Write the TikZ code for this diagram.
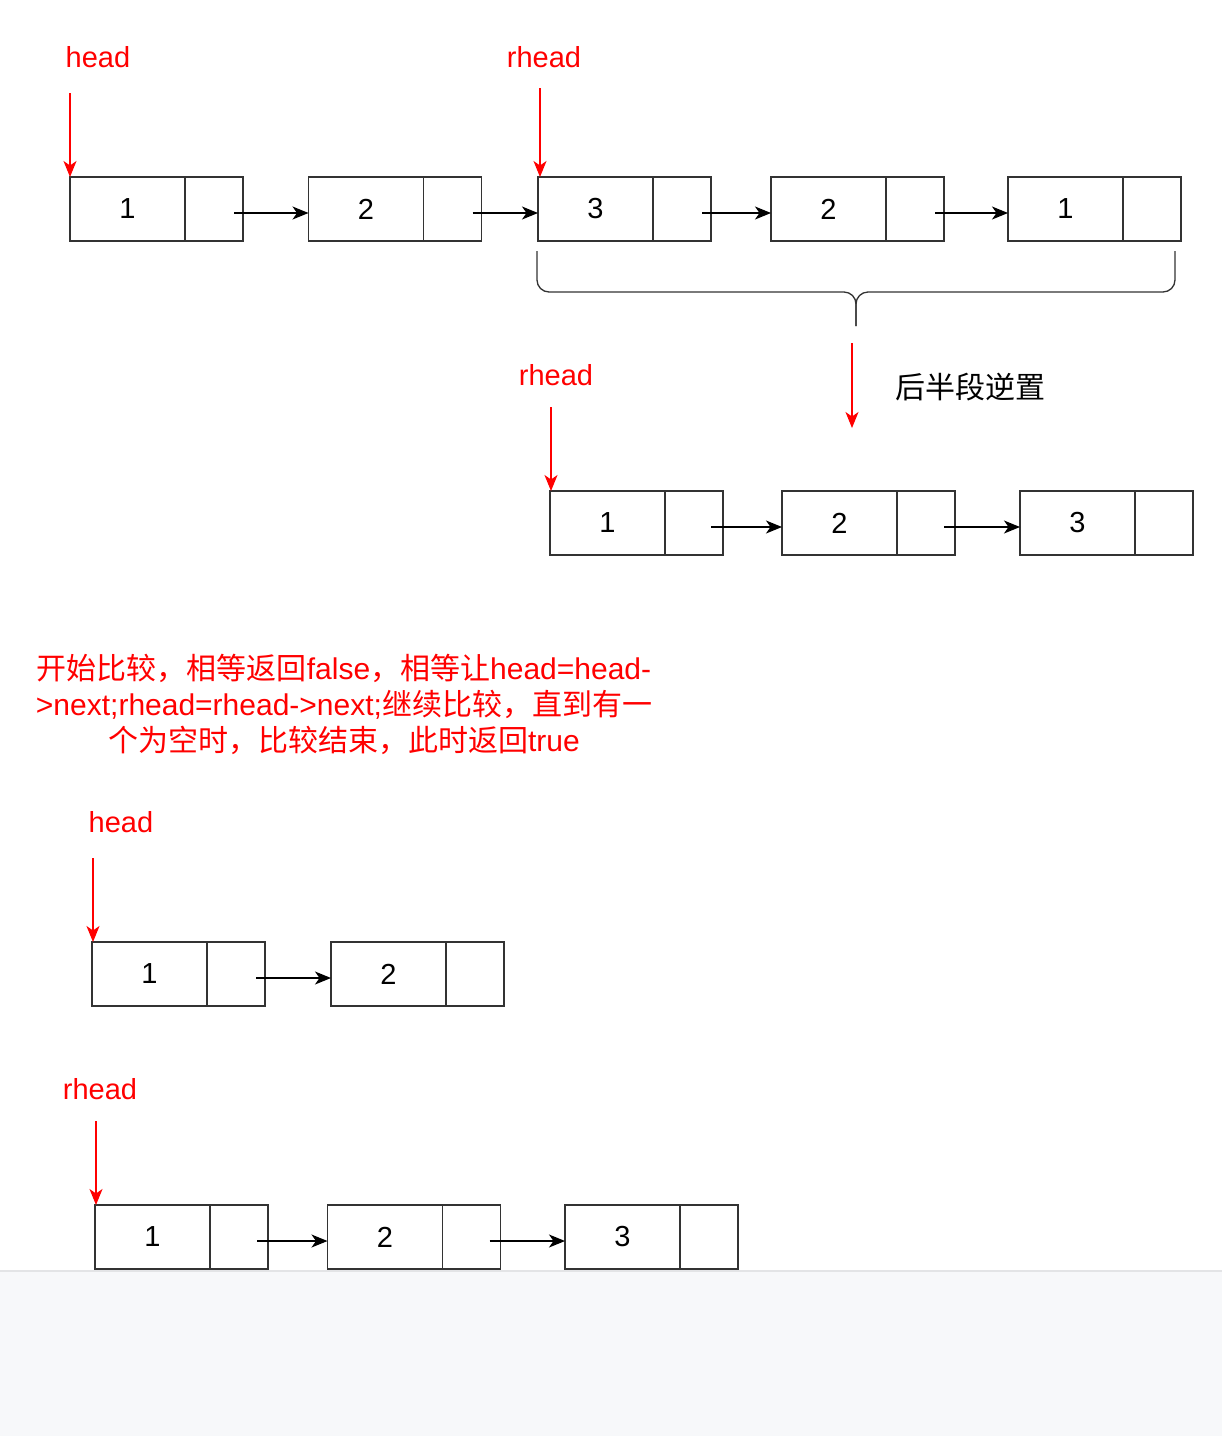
\documentclass[tikz,border=0pt]{standalone}
\usepackage{fontspec}
\setmainfont{Liberation Sans}
\newfontfamily\cjk{Noto Sans CJK SC}
\usepackage{tikz}
\usetikzlibrary{arrows.meta, calc, positioning}
\usepackage{xcolor}
\definecolor{pagegray}{HTML}{F7F8FA}
\definecolor{edgegray}{HTML}{E3E4E6}

\tikzset{
    datacell/.style={draw=black!80, line width=1.3pt, outer sep=0pt, inner sep=0pt,
        minimum width=115pt, minimum height=64pt, font=\fontsize{29pt}{29pt}\selectfont},
    linkcell/.style={draw=black!80, line width=1.3pt, outer sep=0pt, inner sep=0pt,
        minimum width=58pt, minimum height=64pt},
    nextarrow/.style={-{Stealth[length=16pt, width=13pt, inset=4.5pt]}, line width=1.3pt},
    ptrarrow/.style={red, -{Stealth[length=16pt, width=13pt, inset=4.5pt]}, line width=1.3pt},
    ptrlabel/.style={red, font=\fontsize{29pt}{29pt}\selectfont}
}

\begin{document}
\begin{tikzpicture}[x=1pt, y=-1pt]
    \useasboundingbox (0,0) rectangle (1222,1436);
    \fill[white] (0,0) rectangle (1222,1271);
    \fill[pagegray] (0,1271) rectangle (1222,1436);
    \draw[edgegray, line width=1.5pt] (0,1271) -- (1222,1271);

    % 原链表
    \begin{scope}
        \node[datacell] (n1) at (127.5,209) {1};
        \node[linkcell, right=0pt of n1] (n1p) {};
        \node[datacell] (n2) at (366,209) {2};
        \node[linkcell, right=0pt of n2] (n2p) {};
        \node[datacell] (n3) at (595.5,209) {3};
        \node[linkcell, right=0pt of n3] (n3p) {};
        \node[datacell] (n4) at (828.5,209) {2};
        \node[linkcell, right=0pt of n4] (n4p) {};
        \node[datacell] (n5) at (1065.5,209) {1};
        \node[linkcell, right=0pt of n5] (n5p) {};

        \draw[nextarrow] ([xshift=-9pt, yshift=-4pt]n1p.east) -- ([yshift=-4pt]n2.west);
        \draw[nextarrow] ([xshift=-9pt, yshift=-4pt]n2p.east) -- ([yshift=-4pt]n3.west);
        \draw[nextarrow] ([xshift=-9pt, yshift=-4pt]n3p.east) -- ([yshift=-4pt]n4.west);
        \draw[nextarrow] ([xshift=-9pt, yshift=-4pt]n4p.east) -- ([yshift=-4pt]n5.west);

        % 指针 head 与 rhead
        \node[ptrlabel] (head1) at (98,57) {head};
        \coordinate (p1) at (70,93);
        \draw[ptrarrow] (p1) -- (p1 |- n1.north);
        \node[ptrlabel] (rhead1) at (544,57) {rhead};
        \coordinate (p2) at (540,88);
        \draw[ptrarrow] (p2) -- (p2 |- n3.north);

        % 大括号
        \draw[line width=1.3pt, black!80, rounded corners=12pt]
            (537,251) -- (537,292) -- (856,292) -- (856,326);
        \draw[line width=1.3pt, black!80, rounded corners=12pt]
            (1175,251) -- (1175,292) -- (856,292) -- (856,326);
    \end{scope}

    % 后半段逆置
    \coordinate (q1) at (852,343);
    \coordinate (q2) at (852,428);
    \draw[ptrarrow] (q1) -- (q2);
    \node[font=\fontsize{30pt}{30pt}\selectfont\cjk] (rev) at (970,387) {后半段逆置};

    \begin{scope}
        \node[datacell] (r1) at (607.5,523) {1};
        \node[linkcell, right=0pt of r1] (r1p) {};
        \node[datacell] (r2) at (839.5,523) {2};
        \node[linkcell, right=0pt of r2] (r2p) {};
        \node[datacell] (r3) at (1077.5,523) {3};
        \node[linkcell, right=0pt of r3] (r3p) {};

        \draw[nextarrow] ([xshift=-12pt, yshift=-4pt]r1p.east) -- ([yshift=-4pt]r2.west);
        \draw[nextarrow] ([xshift=-11pt, yshift=-4pt]r2p.east) -- ([yshift=-4pt]r3.west);

        \node[ptrlabel] (rhead2) at (556,375) {rhead};
        \coordinate (p3) at (551,407);
        \draw[ptrarrow] (p3) -- (p3 |- r1.north);
    \end{scope}

    % 说明文字
    \node[red, align=center, font=\fontsize{30pt}{36pt}\selectfont] (note) at (344,704)
        {{\cjk 开始比较，相等返回}false{\cjk ，相等让}head=head-\\
         >next;rhead=rhead->next;{\cjk 继续比较，直到有一}\\
         {\cjk 个为空时，比较结束，此时返回}true};

    % 比较结束时
    \begin{scope}
        \node[datacell] (a1) at (149.5,974) {1};
        \node[linkcell, right=0pt of a1] (a1p) {};
        \node[datacell] (a2) at (388.5,974) {2};
        \node[linkcell, right=0pt of a2] (a2p) {};
        \draw[nextarrow] ([xshift=-9pt, yshift=-4pt]a1p.east) -- ([yshift=-4pt]a2.west);

        \node[ptrlabel] (head2) at (121,822) {head};
        \coordinate (p4) at (93,858);
        \draw[ptrarrow] (p4) -- (p4 |- a1.north);
    \end{scope}

    \begin{scope}
        \node[datacell] (b1) at (152.5,1237) {1};
        \node[linkcell, right=0pt of b1] (b1p) {};
        \node[datacell] (b2) at (385,1237) {2};
        \node[linkcell, right=0pt of b2] (b2p) {};
        \node[datacell] (b3) at (622.5,1237) {3};
        \node[linkcell, right=0pt of b3] (b3p) {};
        \draw[nextarrow] ([xshift=-11pt, yshift=-4pt]b1p.east) -- ([yshift=-4pt]b2.west);
        \draw[nextarrow] ([xshift=-11pt, yshift=-4pt]b2p.east) -- ([yshift=-4pt]b3.west);

        \node[ptrlabel] (rhead3) at (100,1089) {rhead};
        \coordinate (p5) at (96,1121);
        \draw[ptrarrow] (p5) -- (p5 |- b1.north);
    \end{scope}
\end{tikzpicture}
\end{document}
